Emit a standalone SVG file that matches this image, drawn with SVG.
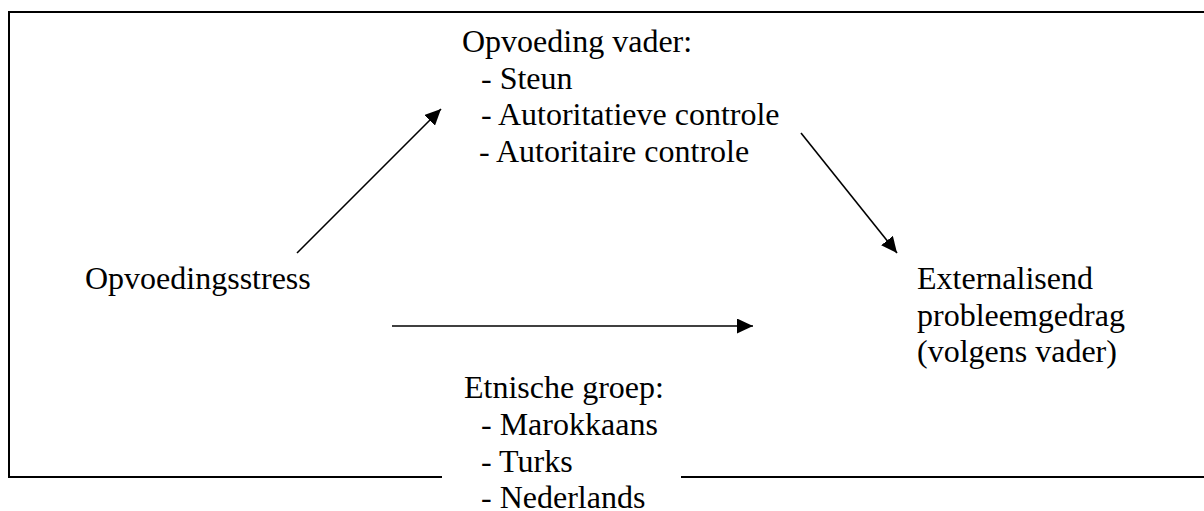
<svg xmlns="http://www.w3.org/2000/svg" width="1204" height="511" viewBox="0 0 1204 511">
  <style>
    .t { font-family: "Liberation Serif", "Times New Roman", serif; font-size: 32px; fill: #000; }
    .frame { stroke: #000; stroke-width: 2; fill: none; }
    .conn { stroke: #000; stroke-width: 1.6; fill: none; marker-end: url(#arrow); }
  </style>
  <defs>
    <marker id="arrow" viewBox="0 0 16 15" refX="16" refY="7.5" markerWidth="16" markerHeight="15" markerUnits="userSpaceOnUse" orient="auto">
      <path d="M0,0 L16,7.5 L0,15 z" fill="#000"/>
    </marker>
  </defs>
  <rect width="1204" height="511" fill="#fff"/>
  <g id="frame">
    <polyline class="frame" points="1204,12 9,12 9,477 442,477"/>
    <line class="frame" x1="681" y1="477" x2="1204" y2="477"/>
  </g>
  <g id="connectors">
    <line class="conn" x1="297" y1="253" x2="441" y2="109"/>
    <line class="conn" x1="801" y1="133" x2="897" y2="253"/>
    <line class="conn" x1="392" y1="326" x2="753" y2="326"/>
  </g>
  <g id="node-opvoedingsstress">
    <text class="t" x="85" y="289">Opvoedingsstress</text>
  </g>
  <g id="node-opvoeding-vader">
    <text class="t" x="462" y="52">Opvoeding vader:</text>
    <text class="t" x="481" y="88.7">- Steun</text>
    <text class="t" x="481" y="125.4">- Autoritatieve controle</text>
    <text class="t" x="479" y="162">- Autoritaire controle</text>
  </g>
  <g id="node-externalisend">
    <text class="t" x="917" y="289">Externalisend</text>
    <text class="t" x="917" y="325.7">probleemgedrag</text>
    <text class="t" x="917" y="362.4">(volgens vader)</text>
  </g>
  <g id="node-etnische-groep">
    <text class="t" x="464" y="398">Etnische groep:</text>
    <text class="t" x="481" y="435">- Marokkaans</text>
    <text class="t" x="481" y="471.5">- Turks</text>
    <text class="t" x="481" y="508">- Nederlands</text>
  </g>
</svg>
